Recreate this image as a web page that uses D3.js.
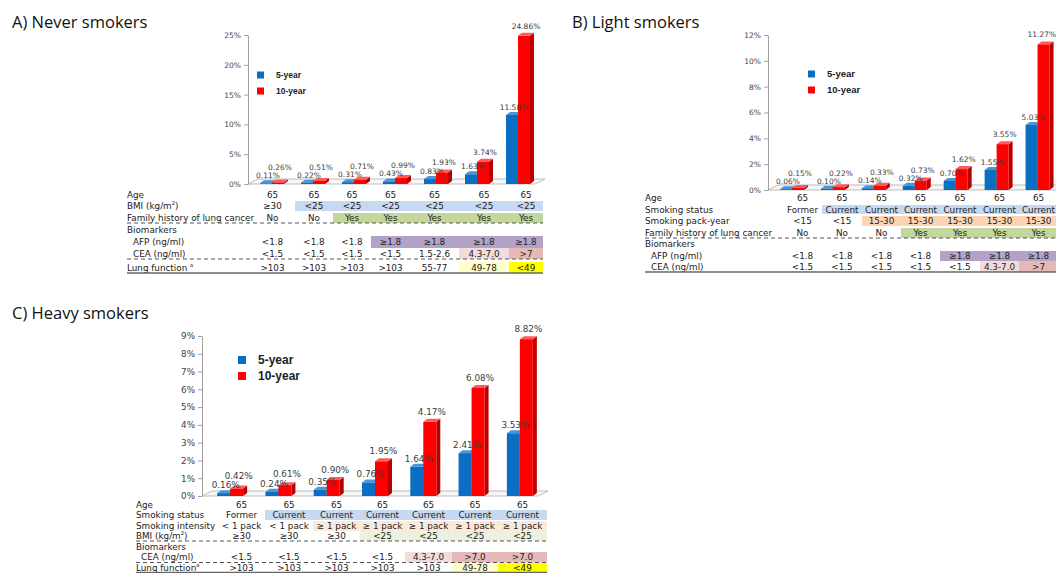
<!DOCTYPE html>
<html>
<head>
<meta charset="utf-8">
<script src="https://cdn.jsdelivr.net/npm/d3@7"></script>
<style>
  body { margin: 0; background: #fff; }
  svg { display: block; }
</style>
</head>
<body>
<svg id="chart" width="1056" height="573"></svg>
<script>
// ---------- data ----------
const groups = ["g1", "g2", "g3", "g4", "g5", "g6", "g7"];
const seriesNames = ["5-year", "10-year"];

// A) Never smokers
const neverFive = [0.11, 0.22, 0.31, 0.43, 0.83, 1.63, 11.58];
const neverTen = [0.26, 0.51, 0.71, 0.99, 1.93, 3.74, 24.86];
const neverTicks = [0, 5, 10, 15, 20, 25];
const neverAge = ["65", "65", "65", "65", "65", "65", "65"];
const neverBmi = ["≥30", "<25", "<25", "<25", "<25", "<25", "<25"];
const neverFamily = ["No", "No", "Yes", "Yes", "Yes", "Yes", "Yes"];
const neverAfp = ["<1.8", "<1.8", "<1.8", "≥1.8", "≥1.8", "≥1.8", "≥1.8"];
const neverCea = ["<1.5", "<1.5", "<1.5", "<1.5", "1.5-2.6", "4.3-7.0", ">7"];
const neverLung = [">103", ">103", ">103", ">103", "55-77", "49-78", "<49"];

// B) Light smokers
const lightFive = [0.06, 0.10, 0.14, 0.32, 0.70, 1.55, 5.03];
const lightTen = [0.15, 0.22, 0.33, 0.73, 1.62, 3.55, 11.27];
const lightTicks = [0, 2, 4, 6, 8, 10, 12];
const lightAge = ["65", "65", "65", "65", "65", "65", "65"];
const lightStatus = ["Former", "Current", "Current", "Current", "Current", "Current", "Current"];
const lightPackYear = ["<15", "<15", "15-30", "15-30", "15-30", "15-30", "15-30"];
const lightFamily = ["No", "No", "No", "Yes", "Yes", "Yes", "Yes"];
const lightAfp = ["<1.8", "<1.8", "<1.8", "<1.8", "≥1.8", "≥1.8", "≥1.8"];
const lightCea = ["<1.5", "<1.5", "<1.5", "<1.5", "<1.5", "4.3-7.0", ">7"];

// C) Heavy smokers
const heavyFive = [0.16, 0.24, 0.35, 0.76, 1.64, 2.41, 3.53];
const heavyTen = [0.42, 0.61, 0.90, 1.95, 4.17, 6.08, 8.82];
const heavyTicks = [0, 1, 2, 3, 4, 5, 6, 7, 8, 9];
const heavyAge = ["65", "65", "65", "65", "65", "65", "65"];
const heavyStatus = ["Former", "Current", "Current", "Current", "Current", "Current", "Current"];
const heavyIntensity = ["< 1 pack", "< 1 pack", "≥ 1 pack", "≥ 1 pack", "≥ 1 pack", "≥ 1 pack", "≥ 1 pack"];
const heavyBmi = ["≥30", "≥30", "≥30", "<25", "<25", "<25", "<25"];
const heavyCea = ["<1.5", "<1.5", "<1.5", "<1.5", "4.3-7.0", ">7.0", ">7.0"];
const heavyLung = [">103", ">103", ">103", ">103", ">103", "49-78", "<49"];

// ---------- styling ----------
const COLORS = {
  five: { front: "#0a6fc2", side: "#08508e", top: "#4a95d8" },
  ten: { front: "#fe0000", side: "#b80000", top: "#ff5a5a" }
};
const FILL = {
  blue: "#c6d9f1", peach: "#fbd4b4", green: "#c3d69b", paleGreen: "#ebf1de",
  palePeach: "#fde9d9", purple: "#b3a2c7", pinkLight: "#f2dcdb", pink: "#e6b9b8",
  yellowLight: "#ffffcc", yellow: "#ffff00"
};
const WIDTH = 1056;

const panels = [
  {
    title: "A) Never smokers", titleX: 12, titleY: 28,
    five: neverFive, ten: neverTen, ticks: neverTicks, yMax: 25,
    axisX: 248, yTop: 35, yBottom: 184, barLeft: 251.5, barRight: 538.5, barW: 12,
    floorRight: 535, legendX: 257, legendY: 75, legendFont: 8.5, legendGap: 16, legendSq: 7,
    labelFont: 7.5, tickFont: 7.5,
    table: {
      x: 127, indent: 6, lineEnd: 543, font: 8.8,
      edges: [250, 295, 333, 371, 410, 459, 509, 543],
      rows: [
        { label: "Age", values: neverAge, top: 190, h: 10 },
        { label: "BMI (kg/m", sup: "2", after: ")", values: neverBmi, top: 201, h: 10, fills: { "<25": FILL.blue } },
        { label: "Family history of lung cancer", values: neverFamily, top: 213, h: 10, fills: { "Yes": FILL.green }, line: "dash" },
        { label: "Biomarkers", values: null, top: 225, h: 10 },
        { label: "AFP (ng/ml)", indent: true, values: neverAfp, top: 236, h: 12, fills: { "≥1.8": FILL.purple } },
        { label: "CEA (ng/ml)", indent: true, values: neverCea, top: 248, h: 11, fills: { "4.3-7.0": FILL.pinkLight, ">7": FILL.pink }, line: "dash" },
        { label: "Lung function ", sup: "a", values: neverLung, top: 262, h: 11, fills: { "49-78": FILL.yellowLight, "<49": FILL.yellow }, line: "solid" }
      ]
    }
  },
  {
    title: "B) Light smokers", titleX: 572, titleY: 28,
    five: lightFive, ten: lightTen, ticks: lightTicks, yMax: 12,
    axisX: 768, yTop: 35, yBottom: 190, barLeft: 771.5, barRight: 1058, barW: 12,
    floorRight: 1060, legendX: 808, legendY: 74, legendFont: 9.5, legendGap: 16, legendSq: 7,
    labelFont: 7.5, tickFont: 7.5,
    table: {
      x: 645, indent: 6, lineEnd: 1056, font: 8.8,
      edges: [783, 822, 862, 901, 940, 980, 1019, 1058],
      rows: [
        { label: "Age", values: lightAge, top: 193, h: 10 },
        { label: "Smoking status", values: lightStatus, top: 205, h: 9, fills: { "Current": FILL.blue } },
        { label: "Smoking pack-year", values: lightPackYear, top: 216, h: 10, fills: { "15-30": FILL.peach } },
        { label: "Family history of lung cancer", values: lightFamily, top: 228, h: 10, fills: { "Yes": FILL.green }, line: "dash" },
        { label: "Biomarkers", values: null, top: 239, h: 10 },
        { label: "AFP (ng/ml)", indent: true, values: lightAfp, top: 251, h: 10, fills: { "≥1.8": FILL.purple } },
        { label: "CEA (ng/ml)", indent: true, values: lightCea, top: 261, h: 11, fills: { "4.3-7.0": FILL.pinkLight, ">7": FILL.pink }, line: "solid" }
      ]
    }
  },
  {
    title: "C) Heavy smokers", titleX: 12, titleY: 319,
    five: heavyFive, ten: heavyTen, ticks: heavyTicks, yMax: 9,
    axisX: 202, yTop: 336, yBottom: 496, barLeft: 206, barRight: 544, barW: 13,
    floorRight: 538, legendX: 238, legendY: 360, legendFont: 12, legendGap: 16, legendSq: 8,
    labelFont: 8.8, tickFont: 8.8,
    table: {
      x: 136, indent: 5, lineEnd: 547, font: 8.8,
      edges: [218, 265, 313, 360, 405, 452, 498, 547],
      rows: [
        { label: "Age", values: heavyAge, top: 500, h: 10 },
        { label: "Smoking status", values: heavyStatus, top: 510, h: 10, fills: { "Current": FILL.blue } },
        { label: "Smoking intensity", values: heavyIntensity, top: 521, h: 10, fills: { "≥ 1 pack": FILL.palePeach } },
        { label: "BMI (kg/m", sup: "2", after: ")", values: heavyBmi, top: 531, h: 10, fills: { "<25": FILL.paleGreen }, line: "dash" },
        { label: "Biomarkers", values: null, top: 542, h: 9 },
        { label: "CEA (ng/ml)", indent: true, values: heavyCea, top: 552, h: 10.5, fills: { "4.3-7.0": FILL.pinkLight, ">7.0": FILL.pink }, line: "dash" },
        { label: "Lung function", sup: "a", values: heavyLung, top: 563, h: 9.5, fills: { "49-78": FILL.yellowLight, "<49": FILL.yellow }, line: "solid" }
      ]
    }
  }
];

const svg = d3.select("#chart");
const DX = 4, DY = 3;           // bar depth offset
const FDX = 10, FDY = 5;        // floor depth offset

panels.forEach(p => {
  const g = svg.append("g");

  // title
  g.append("text")
    .attr("x", p.titleX).attr("y", p.titleY)
    .attr("font-family", "'Open Sans', sans-serif")
    .attr("font-size", 16.5).attr("fill", "#111")
    .text(p.title);

  const y = d3.scaleLinear().domain([0, p.yMax]).range([p.yBottom, p.yTop]);
  const x = d3.scaleBand().domain(groups).range([p.barLeft, p.barRight]);
  const xs = d3.scaleBand().domain(seriesNames).range([-p.barW, p.barW]);

  // floor
  const y0 = y(0);
  g.append("path")
    .attr("d", `M${p.axisX},${y0}L${p.floorRight},${y0}L${p.floorRight + FDX},${y0 - FDY}L${p.axisX + FDX},${y0 - FDY}Z`)
    .attr("fill", "#f7f7f7").attr("stroke", "#bdbdbd").attr("stroke-width", 1);

  // y axis
  const axis = d3.axisLeft(y).tickValues(p.ticks).tickFormat(d => d + "%")
    .tickSize(4).tickSizeOuter(0).tickPadding(3);
  const ag = g.append("g").attr("transform", `translate(${p.axisX},0)`).call(axis);
  ag.select(".domain").attr("stroke", "#a0a0a0");
  ag.selectAll(".tick line").attr("stroke", "#a0a0a0");
  ag.selectAll(".tick text")
    .attr("font-family", "'DejaVu Sans', sans-serif")
    .attr("font-size", p.tickFont).attr("fill", "#444");

  // bars
  const series = [
    { name: "5-year", values: p.five, col: COLORS.five },
    { name: "10-year", values: p.ten, col: COLORS.ten }
  ];
  series.forEach(s => {
    const bg = g.append("g");
    groups.forEach((gr, i) => {
      const v = s.values[i];
      const bx = x(gr) + x.bandwidth() / 2 + xs(s.name);
      const bw = xs.bandwidth();
      const top = y(v);
      bg.append("path")
        .attr("d", `M${bx + bw},${top}L${bx + bw + DX},${top - DY}L${bx + bw + DX},${y0 - DY}L${bx + bw},${y0}Z`)
        .attr("fill", s.col.side);
      bg.append("path")
        .attr("d", `M${bx},${top}L${bx + DX},${top - DY}L${bx + bw + DX},${top - DY}L${bx + bw},${top}Z`)
        .attr("fill", s.col.top);
      bg.append("rect")
        .attr("x", bx).attr("y", top).attr("width", bw).attr("height", y0 - top)
        .attr("fill", s.col.front);
    });
  });

  // value labels
  const lg = g.append("g")
    .attr("font-family", "'DejaVu Sans', sans-serif")
    .attr("font-size", p.labelFont).attr("fill", "#3c3c3c")
    .attr("text-anchor", "middle");
  const halfLabel = p.labelFont * 1.75;   // about half the width of a "00.00%" label
  groups.forEach((gr, i) => {
    const c = x(gr) + x.bandwidth() / 2;
    const bw = xs.bandwidth();
    const fiveBase = y(p.five[i]) - 5;
    const tenBase = Math.min(y(p.ten[i]) - 7, fiveBase - p.labelFont - 0.5);
    const fx = c + xs("5-year") + bw / 2 + DX / 2;
    const tx = Math.min(c + xs("10-year") + bw / 2 + DX / 2, WIDTH - halfLabel - 1);
    lg.append("text").attr("x", fx).attr("y", fiveBase)
      .text(p.five[i].toFixed(2) + "%");
    lg.append("text").attr("x", tx).attr("y", tenBase)
      .text(p.ten[i].toFixed(2) + "%");
  });

  // legend
  const leg = g.append("g").attr("transform", `translate(${p.legendX},${p.legendY})`);
  series.forEach((s, k) => {
    const ly = k * p.legendGap;
    leg.append("rect").attr("x", 0).attr("y", ly - p.legendSq / 2)
      .attr("width", p.legendSq).attr("height", p.legendSq).attr("fill", s.col.front);
    leg.append("text").attr("x", p.legendSq + 12).attr("y", ly).attr("dy", "0.35em")
      .attr("font-family", "'Liberation Sans', Arial, sans-serif").attr("font-weight", "bold")
      .attr("font-size", p.legendFont).attr("fill", "#222")
      .text(s.name);
  });

  // table below the bars
  const t = p.table;
  const tg = g.append("g").attr("font-family", "'DejaVu Sans', sans-serif")
    .attr("font-size", t.font).attr("fill", "#222");
  const centers = d3.range(groups.length).map(i => (t.edges[i] + t.edges[i + 1]) / 2);
  t.rows.forEach(r => {
    if (r.values) {
      r.values.forEach((val, i) => {
        if (r.fills && r.fills[val]) {
          tg.append("rect").attr("x", t.edges[i]).attr("y", r.top)
            .attr("width", t.edges[i + 1] - t.edges[i]).attr("height", r.h)
            .attr("fill", r.fills[val]);
        }
      });
    }
  });
  t.rows.forEach(r => {
    const cy = r.top + r.h / 2;
    const lab = tg.append("text").attr("x", t.x + (r.indent ? t.indent : 0)).attr("y", cy).attr("dy", "0.35em")
      .attr("fill", "#1a1a1a");
    lab.append("tspan").text(r.label);
    if (r.sup) {
      lab.append("tspan").attr("font-size", t.font * 0.6).attr("dy", "-0.7em").text(r.sup);
      if (r.after) lab.append("tspan").attr("dy", "0.42em").text(r.after);
    }
    if (r.values) {
      r.values.forEach((val, i) => {
        tg.append("text").attr("x", centers[i]).attr("y", cy).attr("dy", "0.35em")
          .attr("text-anchor", "middle").text(val);
      });
    }
    if (r.line) {
      const ly = r.top + r.h;
      tg.append("line").attr("x1", t.x).attr("x2", t.lineEnd).attr("y1", ly).attr("y2", ly)
        .attr("stroke", r.line === "dash" ? "#555" : "#666")
        .attr("stroke-width", r.line === "dash" ? 1.1 : 1.6)
        .attr("stroke-dasharray", r.line === "dash" ? "4,3" : null);
    }
  });
});
</script>
</body>
</html>
